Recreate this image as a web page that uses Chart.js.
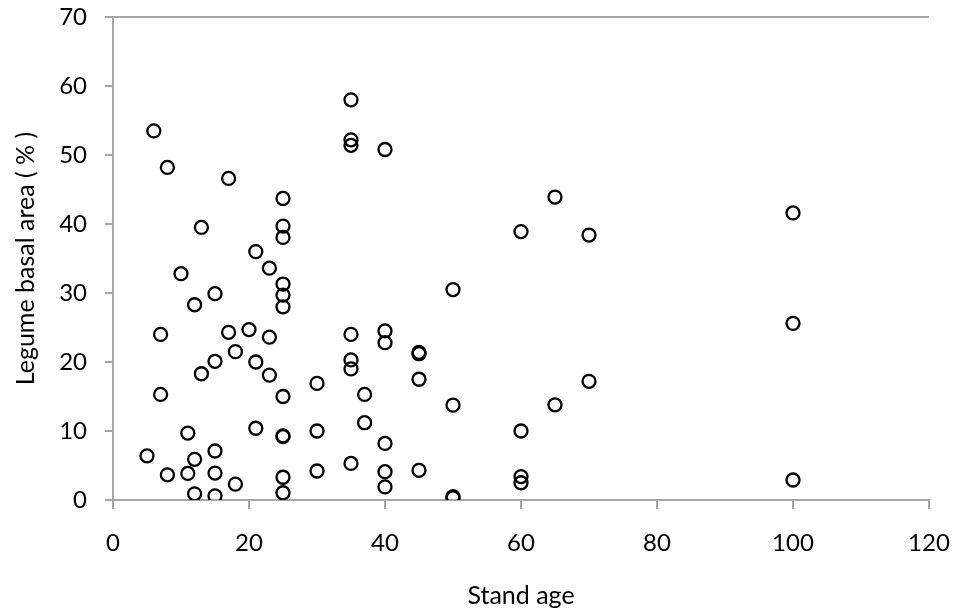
<!DOCTYPE html>
<html lang="en">
<head>
  <meta charset="UTF-8">
  <title>Legume basal area vs stand age</title>
  <style>
    html, body { margin: 0; padding: 0; background: #fff; }
    #wrap { width: 956px; height: 615px; }
  </style>
</head>
<body>
  <div id="wrap"><canvas id="scatter" width="956" height="615"></canvas></div>
  <script src="https://cdn.jsdelivr.net/npm/chart.js"></script>
  <script>
    // stand age (years) and legume basal area (%) per plot
    const standAge = [5, 6, 7, 7, 8, 8, 10, 11, 11, 12, 12, 12, 13, 13, 15, 15, 15, 15, 15,
      17, 17, 18, 18, 20, 21, 21, 21, 23, 23, 23, 25, 25, 25, 25, 25, 25, 25, 25, 25, 25, 25,
      30, 30, 30, 35, 35, 35, 35, 35, 35, 35, 37, 37, 40, 40, 40, 40, 40, 40, 45, 45, 45, 45,
      50, 50, 50, 50, 60, 60, 60, 60, 65, 65, 70, 70, 100, 100, 100];
    const basalArea = [6.4, 53.5, 24.0, 15.3, 48.2, 3.65, 32.8, 9.7, 3.85, 28.3, 5.9, 0.9, 39.5, 18.3, 29.9, 20.1, 7.1, 3.9, 0.6,
      46.6, 24.3, 21.5, 2.3, 24.7, 36.0, 20.0, 10.4, 33.6, 23.6, 18.1, 43.7, 39.7, 38.05, 31.3, 29.7, 28.0, 15.0, 9.2, 9.3, 3.3, 1.05,
      16.9, 10.0, 4.2, 58.0, 52.2, 51.4, 24.0, 20.3, 19.0, 5.3, 15.3, 11.2, 50.8, 24.5, 22.8, 8.2, 4.1, 1.9, 21.4, 21.2, 17.5, 4.3,
      30.5, 13.75, 0.5, 0.3, 38.9, 10.0, 3.4, 2.5, 43.9, 13.8, 38.4, 17.2, 41.6, 25.6, 2.9];

    const xTitle = 'Stand age';
    const yTitle = 'Legume basal area ( % )';

    const points = standAge.map((a, i) => ({ x: a, y: basalArea[i] }));
    const axisGrey = '#a6a6a6';
    const tickFont = { family: 'Lato, "Open Sans", sans-serif', size: 24 };
    const titleFont = { family: 'Lato, "Open Sans", sans-serif', size: 25 };

    new Chart(document.getElementById('scatter').getContext('2d'), {
      type: 'scatter',
      data: {
        datasets: [{
          data: points,
          pointStyle: 'circle',
          pointRadius: 6.5,
          pointHoverRadius: 6.5,
          pointBorderWidth: 2.3,
          borderColor: '#000',
          backgroundColor: 'rgba(255,255,255,0)'
        }]
      },
      options: {
        responsive: false,
        animation: false,
        layout: { padding: { top: 17, right: 27, left: 7, bottom: 0 } },
        plugins: { legend: { display: false }, tooltip: { enabled: false } },
        scales: {
          x: {
            type: 'linear',
            min: 0,
            max: 120,
            ticks: { stepSize: 20, color: '#000', font: tickFont, padding: 20 },
            grid: { drawOnChartArea: false, tickLength: 9, color: axisGrey, lineWidth: 2 },
            border: { color: axisGrey, width: 2 },
            title: { display: true, text: xTitle, color: '#000', font: titleFont, padding: { top: 4, bottom: 4 } },
            afterFit: s => {
              s.height = 115;
              s.paddingLeft = 0;
              s.paddingRight = 0;
            }
          },
          y: {
            min: 0,
            max: 70,
            ticks: { stepSize: 10, color: '#000', font: tickFont, padding: 18 },
            grid: {
              // only the top (70) line runs across the plot
              color: ctx => (ctx.tick && ctx.tick.value === 70) ? axisGrey : 'rgba(0,0,0,0)',
              tickColor: axisGrey,
              tickLength: 8,
              lineWidth: 2
            },
            border: { color: axisGrey, width: 2 },
            title: { display: true, text: yTitle, color: '#000', font: titleFont, padding: { top: 4, bottom: 4 } },
            afterFit: s => {
              s.width = 106;
              s.paddingTop = 0;
              s.paddingBottom = 0;
            }
          }
        }
      }
    });
  </script>
</body>
</html>
